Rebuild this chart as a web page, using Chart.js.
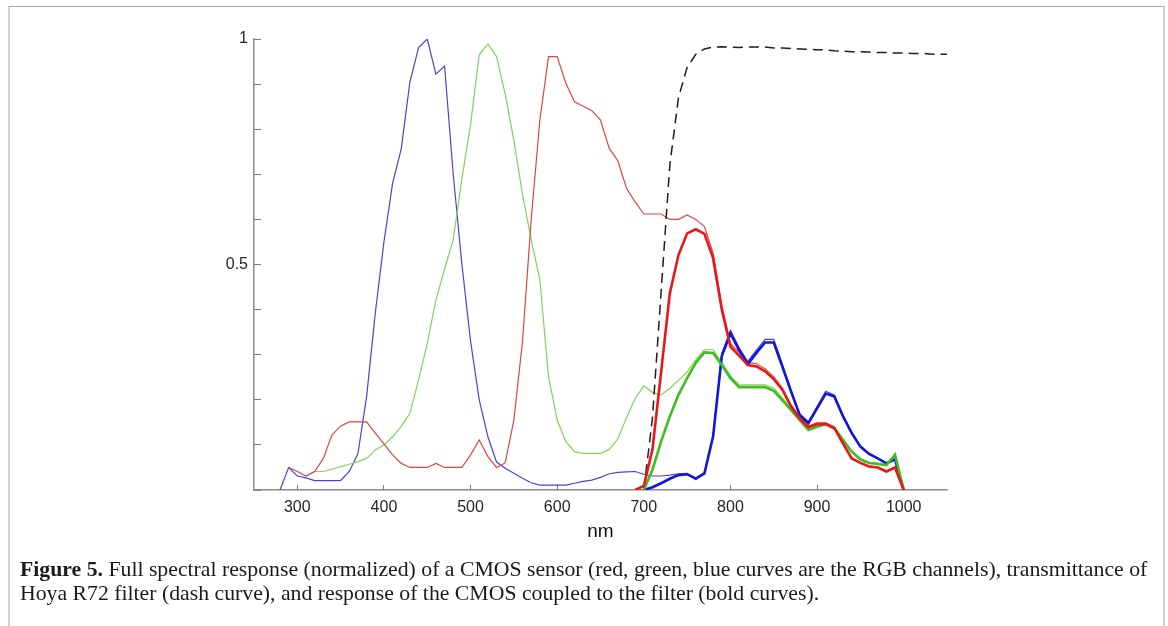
<!DOCTYPE html>
<html>
<head>
<meta charset="utf-8">
<script src="https://cdn.jsdelivr.net/npm/chart.js@4.4.1/dist/chart.umd.min.js"></script>
<style>
html,body{margin:0;padding:0;background:#fff;}
#wrap{position:relative;width:1168px;height:626px;overflow:hidden;background:#fff;}
#c{position:absolute;left:0;top:0;}
#frame{position:absolute;left:8px;top:6px;width:1157px;height:700px;border-top:1px solid #a8a8a8;border-left:2px solid #d2d2d2;border-right:2px solid #d2d2d2;box-sizing:border-box;}
.cap{position:absolute;left:20px;white-space:nowrap;font-family:"Liberation Serif","Times New Roman",serif;color:#1a1a1a;line-height:24px;font-size:18px;}
</style>
</head>
<body>
<div id="wrap">
  <div id="frame"></div>
  <canvas id="c" width="1168" height="626"></canvas>
  <div class="cap" id="cap1" style="top:557px;"><b>Figure 5.</b> Full spectral response (normalized) of a CMOS sensor (red, green, blue curves are the RGB channels), transmittance of</div>
  <div class="cap" id="cap2" style="top:581px;">Hoya R72 filter (dash curve), and response of the CMOS coupled to the filter (bold curves).</div>
</div>
<script>
// ---------- data ----------
const wlThin = [280,290,300,310,320,330,340,350,360,370,
                380,390,400,410,420,430,440,450,460,470,
                480,490,500,510,520,530,540,550,560,570,
                580,590,600,610,620,630,640,650,660,670,
                680,690,700,710,720,730,740,750,760,770,
                780,790,800,810,820,830,840,850,860,870,
                880,890,900,910,920,930,940,950,960,970,
                980,990,1000];

const redThin = [null,0.050,0.041,0.031,0.041,0.070,0.122,0.142,0.151,0.151,
                 0.151,0.126,0.102,0.078,0.059,0.050,0.050,0.050,0.059,0.050,
                 0.050,0.050,0.078,0.111,0.074,0.050,0.060,0.155,0.330,0.600,
                 0.820,0.961,0.961,0.902,0.861,0.851,0.841,0.820,0.758,0.730,
                 0.669,0.639,0.612,0.612,0.612,0.600,0.600,0.610,0.600,0.584,
                 0.525,0.410,0.325,0.305,0.283,0.280,0.269,0.251,0.226,0.189,
                 0.162,0.142,0.149,0.149,0.140,0.105,0.071,0.061,0.053,0.051,
                 0.042,0.051,0];

const greenThin = [null,null,null,0.031,0.041,0.041,0.046,0.052,0.057,0.063,
                   0.070,0.089,0.100,0.118,0.141,0.170,0.244,0.325,0.421,0.490,
                   0.555,0.690,0.810,0.965,0.989,0.961,0.878,0.775,0.655,0.555,
                   0.466,0.251,0.155,0.107,0.085,0.081,0.081,0.081,0.090,0.113,
                   0.160,0.203,0.231,0.216,0.211,0.225,0.243,0.262,0.289,0.311,
                   0.311,0.283,0.253,0.233,0.233,0.233,0.233,0.226,0.204,0.181,
                   0.158,0.136,0.143,0.149,0.140,0.113,0.087,0.069,0.061,0.059,
                   0.056,0.080,0];

const blueThin = [0,0.050,0.031,0.027,0.021,0.021,0.021,0.021,0.041,0.081,
                  0.207,0.392,0.550,0.680,0.757,0.905,0.981,1.000,0.922,0.940,
                  0.700,0.500,0.330,0.200,0.118,0.062,0.048,0.037,0.026,0.016,
                  0.011,0.011,0.011,0.011,0.015,0.019,0.022,0.028,0.036,0.039,
                  0.040,0.041,0.035,0.031,0.031,0.033,0.036,0.037,0.026,0.038,
                  0.121,0.303,0.354,0.316,0.285,0.310,0.334,0.334,0.279,0.222,
                  0.169,0.151,0.185,0.219,0.211,0.166,0.129,0.098,0.082,0.071,
                  0.060,0.069,0];

const wlBold = [690,700,710,720,730,740,750,760,770,780,
                790,800,810,820,830,840,850,860,870,880,
                890,900,910,920,930,940,950,960,970,980,
                990,1000];

const redBold = [0,0.009,0.090,0.262,0.436,0.521,0.569,0.578,0.568,0.514,
                 0.400,0.318,0.298,0.277,0.274,0.263,0.246,0.222,0.185,0.159,
                 0.139,0.146,0.146,0.137,0.103,0.070,0.060,0.052,0.050,0.041,
                 0.050,0];

const greenBold = [null,0,0.045,0.108,0.163,0.211,0.248,0.282,0.305,0.304,
                   0.277,0.248,0.228,0.228,0.228,0.228,0.220,0.199,0.177,0.155,
                   0.133,0.140,0.146,0.137,0.111,0.085,0.068,0.060,0.058,0.055,
                   0.078,0];

const blueBold = [null,0,0.006,0.015,0.025,0.033,0.035,0.025,0.037,0.119,
                  0.297,0.347,0.310,0.279,0.304,0.327,0.327,0.273,0.218,0.166,
                  0.148,0.181,0.214,0.207,0.163,0.126,0.096,0.080,0.070,0.059,
                  0.068,0];

const wlFilter = [700,710,720,730,740,750,760,770,780,790,
                  800,810,820,830,840,850,860,870,880,890,
                  900,910,920,930,940,950,960,970,980,990,
                  1000,1010,1020,1030,1040,1050];

const filterR72 = [0,0.160,0.440,0.720,0.870,0.937,0.966,0.978,0.982,0.983,
                   0.982,0.981,0.982,0.982,0.982,0.980,0.980,0.979,0.978,0.977,
                   0.976,0.976,0.974,0.973,0.972,0.972,0.971,0.970,0.970,0.969,
                   0.969,0.968,0.968,0.967,0.966,0.966];

const xTickValues = [300,400,500,600,700,800,900,1000];
const yLabelValues = [0.5, 1];
const yLabelTexts = ['0.5', '1'];
const xTitle = 'nm';

// ---------- chart ----------
const pts = (xs, ys) => xs.map((x, i) => ({x: x, y: ys[i]}));
const axisFont = '"Liberation Sans", Arial, Helvetica, sans-serif';

function ds(label, xs, ys, color, width, order, dash) {
  return {
    label: label, data: pts(xs, ys), borderColor: color, backgroundColor: color,
    borderWidth: width, pointRadius: 0, fill: false, tension: 0, order: order,
    borderDash: dash || [], spanGaps: false
  };
}

new Chart(document.getElementById('c'), {
  type: 'line',
  data: {
    datasets: [
      ds('R bold', wlBold, redBold, 'rgb(236,22,22)', 2.6, 1),
      ds('G bold', wlBold, greenBold, 'rgb(62,190,32)', 2.6, 2),
      ds('B bold', wlBold, blueBold, 'rgb(16,22,220)', 2.6, 3),
      ds('Filter', wlFilter, filterR72, 'rgb(30,30,30)', 1.5, 4, [10, 6]),
      ds('R', wlThin, redThin, 'rgb(222,70,70)', 1.2, 5),
      ds('G', wlThin, greenThin, 'rgb(128,212,88)', 1.2, 6),
      ds('B', wlThin, blueThin, 'rgb(70,70,215)', 1.2, 7)
    ]
  },
  options: {
    responsive: false,
    animation: false,
    devicePixelRatio: 1,
    layout: { padding: { left: 0, top: 39, right: 221, bottom: 0 } },
    plugins: { legend: { display: false }, tooltip: { enabled: false }, title: { display: false } },
    scales: {
      x: {
        type: 'linear', min: 250, max: 1050,
        afterBuildTicks: (s) => { s.ticks = xTickValues.map(v => ({value: v})); },
        afterFit: (s) => { s.height = 136; },
        ticks: { color: '#262626', font: { family: axisFont, size: 16 }, padding: 13,
                 maxRotation: 0, autoSkip: false, callback: (v) => String(v) },
        grid: { drawOnChartArea: false, drawTicks: true, tickLength: -5, tickColor: '#7a7a7a', tickWidth: 1 },
        border: { display: true, color: '#8c8c8c', width: 1.5 },
        title: { display: true, text: xTitle, color: '#111', font: { family: axisFont, size: 19 },
                 padding: { top: 0, bottom: 83 } }
      },
      y: {
        type: 'linear', min: 0, max: 1,
        afterFit: (s) => { s.width = 254; },
        ticks: { stepSize: 0.1, color: '#262626', font: { family: axisFont, size: 16 }, padding: 13,
                 callback: (v) => {
                   for (let i = 0; i < yLabelValues.length; i++) {
                     if (Math.abs(v - yLabelValues[i]) < 1e-6) return yLabelTexts[i];
                   }
                   return '';
                 } },
        grid: { drawOnChartArea: false, drawTicks: true, tickLength: -7, tickColor: '#7a7a7a', tickWidth: 1 },
        border: { display: true, color: '#8c8c8c', width: 1.5 }
      }
    }
  }
});

// fit caption width to the reference line length
(function () {
  const c1 = document.getElementById('cap1');
  const c2 = document.getElementById('cap2');
  const w = c1.getBoundingClientRect().width;
  const size = 18 * 1128 / w;
  c1.style.fontSize = size + 'px';
  c2.style.fontSize = size + 'px';
})();
</script>
</body>
</html>
